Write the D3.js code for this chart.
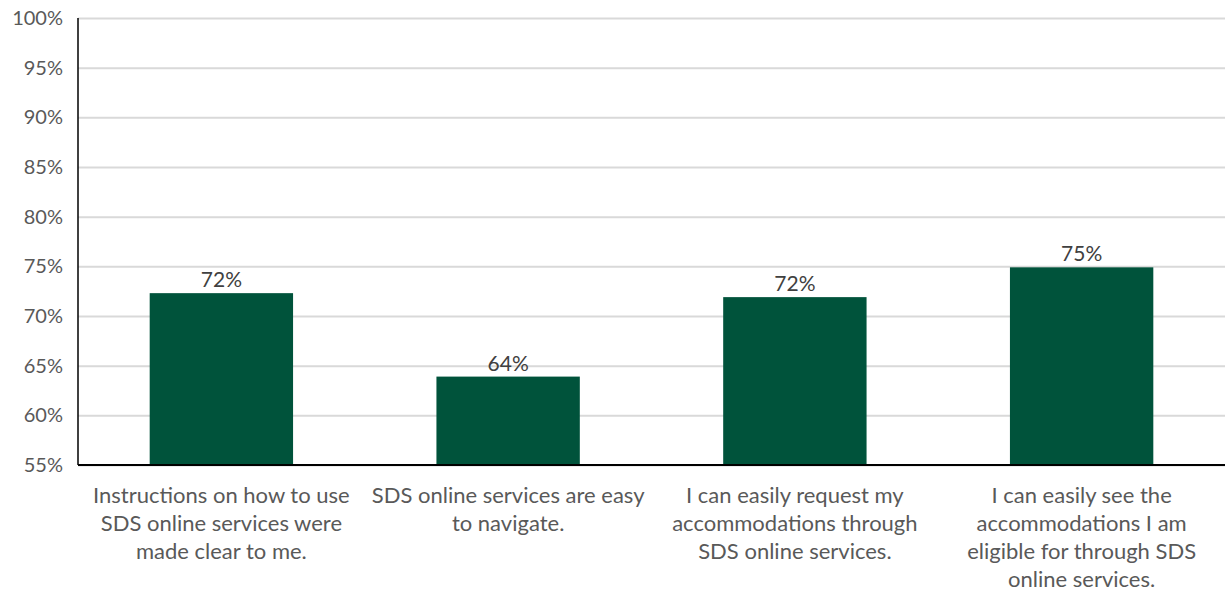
<!DOCTYPE html>
<html>
<head>
<meta charset="utf-8">
<script src="https://cdn.jsdelivr.net/npm/d3@7"></script>
<style>
  html, body { margin: 0; padding: 0; background: #fff; }
  #chart { width: 1225px; height: 592px; }
  text { font-family: Lato, "Open Sans", sans-serif; }
</style>
</head>
<body>
<div id="chart"></div>
<script>
// Survey statements (wrapped as in the original)
const categories = [
    ["Instructions on how to use", "SDS online services were", "made clear to me."],
    ["SDS online services are easy", "to navigate."],
    ["I can easily request my", "accommodations through", "SDS online services."],
    ["I can easily see the", "accommodations I am", "eligible for through SDS", "online services."]
];
const values = [72.3, 63.9, 71.9, 74.9];
const valueLabels = ["72%", "64%", "72%", "75%"];
const yTicks = [55, 60, 65, 70, 75, 80, 85, 90, 95, 100];

const margin = { top: 18, right: 0, bottom: 127, left: 78 };
const width = 1225 - margin.left - margin.right;
const height = 592 - margin.top - margin.bottom;

const svg = d3.select("#chart")
    .append("svg")
    .attr("width", 1225)
    .attr("height", 592)
    .append("g")
    .attr("transform", `translate(${margin.left},${margin.top})`);

const x = d3.scaleBand()
    .domain(d3.range(categories.length))
    .range([0, width])
    .paddingInner(0.5)
    .paddingOuter(0.25);

const y = d3.scaleLinear()
    .domain([55, 100])
    .range([height, 0]);

// gridlines
svg.append("g")
    .call(d3.axisLeft(y).tickValues(yTicks).tickSize(-width).tickFormat(""))
    .call(g => g.select(".domain").remove())
    .selectAll("line")
    .attr("stroke", "#d9d9d9")
    .attr("stroke-width", 2);

// y tick labels
svg.append("g")
    .call(d3.axisLeft(y).tickValues(yTicks).tickSize(0).tickPadding(15).tickFormat(d => d + "%"))
    .call(g => g.select(".domain").remove())
    .selectAll("text")
    .style("font-size", "20px")
    .attr("fill", "#595959");

// bars
svg.selectAll(".bar")
    .data(values)
    .enter()
    .append("rect")
    .attr("class", "bar")
    .attr("x", (d, i) => x(i))
    .attr("width", x.bandwidth())
    .attr("y", d => y(d))
    .attr("height", d => height - y(d))
    .attr("fill", "#00533b");

// value labels
svg.selectAll(".label")
    .data(values)
    .enter()
    .append("text")
    .attr("class", "label")
    .attr("x", (d, i) => x(i) + x.bandwidth() / 2)
    .attr("y", d => y(d) - 6)
    .attr("text-anchor", "middle")
    .style("font-size", "21px")
    .attr("fill", "#404040")
    .text((d, i) => valueLabels[i]);

// axis lines
svg.append("line")
    .attr("x1", 0).attr("x2", 0)
    .attr("y1", 0).attr("y2", height)
    .attr("stroke", "#000").attr("stroke-width", 1.5);
svg.append("line")
    .attr("x1", 0).attr("x2", width)
    .attr("y1", height).attr("y2", height)
    .attr("stroke", "#000").attr("stroke-width", 2);

// category labels
const cat = svg.selectAll(".cat")
    .data(categories)
    .enter()
    .append("text")
    .attr("class", "cat")
    .attr("text-anchor", "middle")
    .style("font-size", "22px")
    .attr("fill", "#595959");

cat.selectAll("tspan")
    .data((d, i) => d.map(line => ({ line, i })))
    .enter()
    .append("tspan")
    .attr("x", d => x(d.i) + x.bandwidth() / 2)
    .attr("y", (d, j) => height + 38 + j * 28)
    .text(d => d.line);
</script>
</body>
</html>
